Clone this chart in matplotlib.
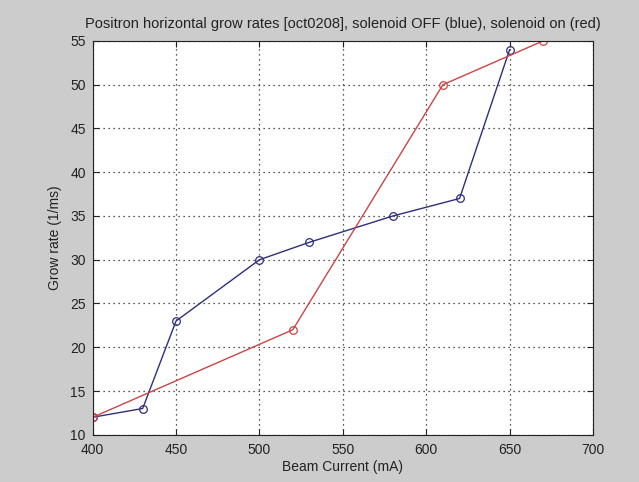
import matplotlib
matplotlib.use("Agg")
import matplotlib.pyplot as plt

# beam current (mA) and grow rate (1/ms)
current_off = [400, 430, 450, 500, 530, 580, 620, 650]
rate_off = [12, 13, 23, 30, 32, 35, 37, 54]
current_on = [400, 520, 610, 670]
rate_on = [12, 22, 50, 55]

xticks = [400, 450, 500, 550, 600, 650, 700]
yticks = [10, 15, 20, 25, 30, 35, 40, 45, 50, 55]

plt.rcParams['font.family'] = ['Liberation Sans', 'DejaVu Sans']

fig = plt.figure(figsize=(6.39, 4.82), dpi=100, facecolor='#cccccc')
ax = fig.add_axes([0.145, 0.098, 0.783, 0.817])

ax.plot(current_off, rate_off, color='#2e2e7e', linewidth=1.0, marker='o',
        markersize=5.5, markerfacecolor='none', markeredgewidth=0.9)
ax.plot(current_on, rate_on, color='#cc4444', linewidth=1.0, marker='o',
        markersize=5.5, markerfacecolor='none', markeredgewidth=0.9)

ax.set_xlim(400, 700)
ax.set_ylim(10, 55)
ax.set_xticks(xticks)
ax.set_yticks(yticks)
ax.grid(True, linestyle=(0, (1, 3)), color='#222222', linewidth=0.9)
ax.tick_params(direction='in', labelsize=10, length=4, top=True, right=True,
               colors='#222222', labelcolor='#222222')
ax.tick_params(axis='x', pad=6)
ax.tick_params(axis='y', pad=5)
for s in ax.spines.values():
    s.set_linewidth(0.8)
    s.set_color('#222222')

ax.set_xlabel('Beam Current (mA)', fontsize=10, labelpad=2, color='#222222')
ax.set_ylabel('Grow rate (1/ms)', fontsize=10, labelpad=6, color='#222222')
ax.set_title('Positron horizontal grow rates [oct0208], solenoid OFF (blue), solenoid on (red)',
             fontsize=10.5, pad=9, color='#222222')

fig.savefig('out.png', dpi=100, facecolor=fig.get_facecolor())
